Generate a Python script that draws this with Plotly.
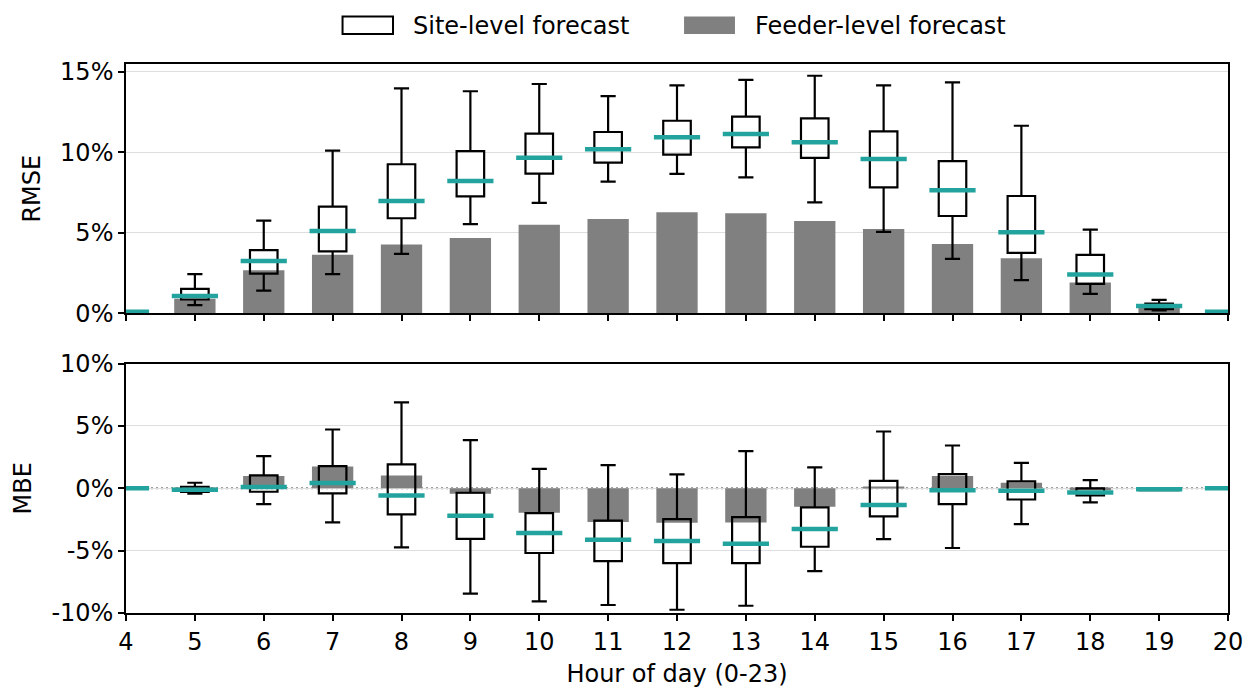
import plotly.graph_objects as go
from plotly.subplots import make_subplots

# ---------------- data ----------------
hours = [4, 5, 6, 7, 8, 9, 10, 11, 12, 13, 14, 15, 16, 17, 18, 19, 20]

# RMSE (%) — site-level forecast distribution
rmse_lower = [0.10, 0.51, 1.41, 2.43, 3.69, 5.53, 6.85, 8.17, 8.65, 8.44, 6.89, 5.05, 3.38, 2.06, 1.21, 0.18, 0.10]
rmse_q1    = [0.10, 0.86, 2.47, 3.85, 5.90, 7.26, 8.67, 9.35, 9.85, 10.30, 9.64, 7.82, 6.04, 3.75, 1.83, 0.26, 0.10]
rmse_med   = [0.10, 1.07, 3.25, 5.11, 6.97, 8.21, 9.66, 10.18, 10.92, 11.13, 10.61, 9.58, 7.64, 5.03, 2.41, 0.45, 0.10]
rmse_q3    = [0.10, 1.52, 3.92, 6.62, 9.25, 10.07, 11.15, 11.25, 11.95, 12.20, 12.10, 11.29, 9.45, 7.28, 3.63, 0.61, 0.10]
rmse_upper = [0.10, 2.43, 5.75, 10.10, 13.96, 13.78, 14.23, 13.48, 14.15, 14.48, 14.74, 14.15, 14.33, 11.64, 5.20, 0.84, 0.10]
# RMSE (%) — feeder-level forecast
rmse_feeder = [0.03, 0.90, 2.68, 3.63, 4.27, 4.68, 5.49, 5.86, 6.27, 6.21, 5.73, 5.24, 4.31, 3.42, 1.91, 0.34, 0.03]

# MBE (%) — site-level forecast distribution
mbe_lower = [0.0, -0.44, -1.27, -2.74, -4.74, -8.45, -9.07, -9.36, -9.74, -9.42, -6.64, -4.07, -4.79, -2.87, -1.13, -0.07, 0.0]
mbe_q1    = [0.0, -0.30, -0.28, -0.41, -2.10, -4.05, -5.19, -5.84, -6.00, -6.00, -4.69, -2.26, -1.27, -0.90, -0.57, -0.07, 0.0]
mbe_med   = [0.0, -0.12, 0.10, 0.42, -0.58, -2.20, -3.59, -4.13, -4.23, -4.45, -3.27, -1.35, -0.15, -0.20, -0.33, -0.07, 0.0]
mbe_q3    = [0.0, 0.12, 1.03, 1.78, 1.91, -0.36, -1.99, -2.60, -2.47, -2.31, -1.54, 0.60, 1.14, 0.55, -0.01, -0.07, 0.0]
mbe_upper = [0.0, 0.44, 2.58, 4.71, 6.88, 3.86, 1.56, 1.86, 1.11, 2.98, 1.67, 4.55, 3.43, 2.04, 0.66, -0.07, 0.0]
# MBE (%) — feeder-level forecast
mbe_feeder = [0.0, -0.05, 0.98, 1.75, 1.03, -0.44, -1.96, -2.71, -2.76, -2.74, -1.48, 0.12, 0.98, 0.44, -0.15, -0.25, 0.0]

rmse_ticks = [0, 5, 10, 15]
rmse_ticktext = ["0%", "5%", "10%", "15%"]
mbe_ticks = [-10, -5, 0, 5, 10]
mbe_ticktext = ["-10%", "-5%", "0%", "5%", "10%"]

# ---------------- style ----------------
TEAL = "#22a39e"
GRAY = "#808080"
FONT = "DejaVu Sans"

fig = make_subplots(rows=2, cols=1, shared_xaxes=True, vertical_spacing=0.09)

def add_panel(row, feeder, lo, q1, med, q3, hi):
    fig.add_trace(go.Bar(x=hours, y=feeder, width=0.6, marker=dict(color=GRAY, line=dict(width=0)),
                         name="Feeder-level forecast", showlegend=False), row=row, col=1)
    fig.add_trace(go.Box(x=hours, q1=q1, median=med, q3=q3, lowerfence=lo, upperfence=hi,
                         width=0.4, whiskerwidth=0.55, boxpoints=False,
                         line=dict(color="black", width=2.2), fillcolor="rgba(0,0,0,0)",
                         name="Site-level forecast", showlegend=False), row=row, col=1)
    fig.add_trace(go.Scatter(x=hours, y=med, mode="markers",
                             marker=dict(symbol="line-ew", size=33, line=dict(width=4.5, color=TEAL)),
                             showlegend=False, hoverinfo="skip"), row=row, col=1)

add_panel(1, rmse_feeder, rmse_lower, rmse_q1, rmse_med, rmse_q3, rmse_upper)
add_panel(2, mbe_feeder, mbe_lower, mbe_q1, mbe_med, mbe_q3, mbe_upper)

axis_common = dict(showline=True, linecolor="black", linewidth=1.5, mirror=True,
                   ticks="outside", ticklen=6, tickwidth=1.5, tickcolor="black", automargin=False,
                   tickfont=dict(family=FONT, size=24, color="black"))

fig.update_xaxes(range=[4, 20], tickvals=hours, showgrid=False, zeroline=False, **axis_common)
fig.update_xaxes(showticklabels=False, row=1, col=1)
fig.update_xaxes(showticklabels=True, title=dict(text="Hour of day (0-23)", standoff=15,
                 font=dict(family=FONT, size=24, color="black")), row=2, col=1)

fig.update_yaxes(showgrid=True, gridcolor="#dedede", gridwidth=1, zeroline=False, **axis_common)
fig.update_yaxes(range=[0, 15.47], tickvals=rmse_ticks, ticktext=rmse_ticktext,
                 title=dict(text="RMSE", standoff=13, font=dict(family=FONT, size=24, color="black")),
                 row=1, col=1)
fig.update_yaxes(range=[-10, 10], tickvals=mbe_ticks, ticktext=mbe_ticktext,
                 title=dict(text="MBE", standoff=13, font=dict(family=FONT, size=24, color="black")),
                 row=2, col=1)

fig.update_layout(yaxis=dict(domain=[0.5458, 1.0]), yaxis2=dict(domain=[0.0, 0.4544]))

# dotted zero reference line in the MBE panel
fig.add_shape(type="line", xref="x2 domain", x0=0, x1=1, yref="y2", y0=0, y1=0,
              line=dict(color="#808080", width=2, dash="2px,3px"), layer="below")

# manual legend (matplotlib-style wide patches)
fig.add_shape(type="rect", xref="paper", yref="paper", x0=0.1965, x1=0.2423, y0=1.0546, y1=1.0865,
              line=dict(color="black", width=2), fillcolor="white")
fig.add_shape(type="rect", xref="paper", yref="paper", x0=0.5064, x1=0.5526, y0=1.0546, y1=1.0865,
              line=dict(width=0), fillcolor=GRAY)
fig.add_annotation(text="Site-level forecast", xref="paper", yref="paper", x=0.2590, y=1.0701,
                   xanchor="left", yanchor="middle", showarrow=False,
                   font=dict(family=FONT, size=24, color="black"))
fig.add_annotation(text="Feeder-level forecast", xref="paper", yref="paper", x=0.5690, y=1.0701,
                   xanchor="left", yanchor="middle", showarrow=False,
                   font=dict(family=FONT, size=24, color="black"))

fig.update_layout(width=1247, height=688, margin=dict(l=126, r=19, t=64, b=75),
                  plot_bgcolor="white", paper_bgcolor="white", showlegend=False,
                  barmode="overlay", boxmode="overlay",
                  font=dict(family=FONT, size=24, color="black"))

fig.write_html("out.html", config={"displayModeBar": False},
               post_script="document.body.style.margin='0px';")
